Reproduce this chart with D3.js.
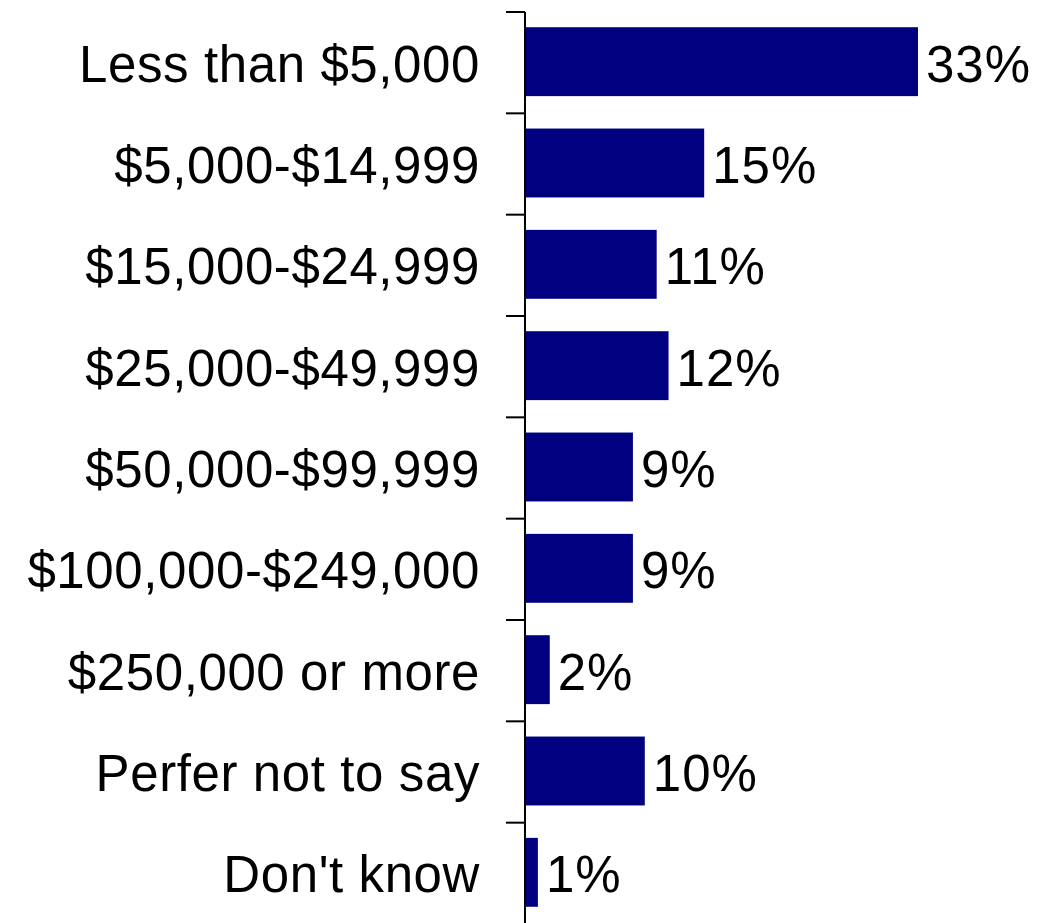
<!DOCTYPE html>
<html>
<head>
<meta charset="utf-8">
<script src="https://cdn.jsdelivr.net/npm/d3@7"></script>
<style>
  html, body { margin: 0; padding: 0; background: #fff; }
  svg { display: block; }
  text { font-family: "Liberation Sans", Arial, Helvetica, sans-serif; fill: #000; }
</style>
</head>
<body>
<svg id="chart" width="1041" height="923"></svg>
<script>
const categories = [
  "Less than $5,000",
  "$5,000-$14,999",
  "$15,000-$24,999",
  "$25,000-$49,999",
  "$50,000-$99,999",
  "$100,000-$249,000",
  "$250,000 or more",
  "Perfer not to say",
  "Don't know"
];
const values = [33, 15, 11, 12, 9, 9, 2, 10, 1];
const valueLabels = ["33%", "15%", "11%", "12%", "9%", "9%", "2%", "10%", "1%"];

const data = categories.map((c, i) => ({ c, v: values[i], label: valueLabels[i] }));

const svg = d3.select("#chart");
const axisX = 525;
const fontSize = 51;

const x = d3.scaleLinear().domain([0, 33]).range([axisX + 1, 918]);
const pad = 0.32;
const y = d3.scaleBand().domain(categories).range([12, 924]).paddingInner(pad).paddingOuter(pad / 2);
const step = y.step();

// bars
svg.append("g").selectAll("rect").data(data).join("rect")
  .attr("x", x(0))
  .attr("y", d => y(d.c) - 1)
  .attr("width", d => x(d.v) - x(0))
  .attr("height", y.bandwidth())
  .attr("fill", "#000080");

// axis line and ticks
const tickYs = categories.map(c => y(c) - step * pad / 2);
const g = svg.append("g");
g.append("line")
  .attr("x1", axisX).attr("x2", axisX)
  .attr("y1", tickYs[0]).attr("y2", 930)
  .attr("stroke", "#000").attr("stroke-width", 2);
g.selectAll("line.tick").data(tickYs).join("line")
  .attr("class", "tick")
  .attr("x1", axisX - 19).attr("x2", axisX)
  .attr("y1", d => d).attr("y2", d => d)
  .attr("stroke", "#000").attr("stroke-width", 2);

// category labels
svg.append("g").selectAll("text").data(data).join("text")
  .attr("x", axisX - 45)
  .attr("y", d => y(d.c) + y.bandwidth() / 2)
  .attr("dy", "0.37em")
  .attr("text-anchor", "end")
  .style("font-size", fontSize + "px")
  .style("letter-spacing", "0.6px")
  .text(d => d.c);

// value labels
svg.append("g").selectAll("text").data(data).join("text")
  .attr("x", d => x(d.v) + 8)
  .attr("y", d => y(d.c) + y.bandwidth() / 2)
  .attr("dy", "0.37em")
  .attr("text-anchor", "start")
  .style("font-size", fontSize + "px")
  .style("letter-spacing", "1px")
  .text(d => d.label);
</script>
</body>
</html>
